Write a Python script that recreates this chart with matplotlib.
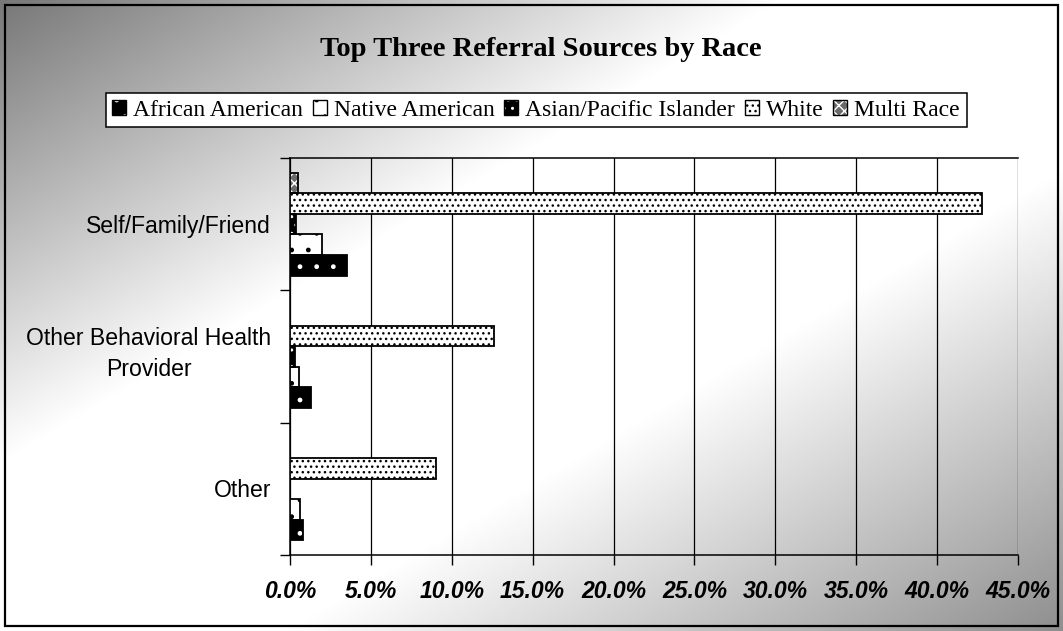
import matplotlib
matplotlib.use('Agg')

import numpy as np
from matplotlib import pyplot as plt
from matplotlib.patches import Patch, Rectangle
from matplotlib.ticker import FuncFormatter

categories = ['Self/Family/Friend', 'Other Behavioral Health\nProvider', 'Other']
series_names = ['African American', 'Native American', 'Asian/Pacific Islander',
                'White', 'Multi Race']
african = [3.5, 1.3, 0.8]
native = [2.0, 0.55, 0.6]
asian = [0.4, 0.3, 0.0]
white = [42.8, 12.6, 9.0]
multi = [0.5, 0.0, 0.0]
x_ticks = [0, 5, 10, 15, 20, 25, 30, 35, 40, 45]

# face, hatch colour, hatch
styles = [
    ('black', 'white', '.'),
    ('white', 'black', '.'),
    ('black', 'white', '..'),
    ('white', 'black', '...'),
    ('#6a6a6a', 'white', 'xxx'),
]

W, H = 1063, 631
fig = plt.figure(figsize=(W / 100, H / 100), dpi=100)

# diagonal grey gradient background
bg = fig.add_axes([0, 0, 1, 1], zorder=0)
xx, yy = np.meshgrid(np.linspace(0, 1, 400), np.linspace(0, 1, 240))
t = xx + yy
shade = np.minimum(np.minimum(1.0, 0.47 + 0.72 * t), 0.56 + 0.6 * (2 - t))
bg.imshow(shade, cmap='gray', vmin=0, vmax=1, aspect='auto',
          extent=[0, 1, 1, 0], interpolation='bilinear')
bg.set_xlim(0, 1)
bg.set_ylim(1, 0)
bg.axis('off')
bg.add_patch(Rectangle((5 / W, 5 / H), (W - 10) / W, (H - 10) / H,
                       fill=False, edgecolor='black', linewidth=1.6))

ax = fig.add_axes([290 / W, 1 - 555 / H, (1018 - 290) / W, (555 - 158) / H], zorder=1)
ax.patch.set_alpha(0)

y = np.arange(len(categories))[::-1]
h = 0.156
data = [african, native, asian, white, multi]
for i, (vals, (face, hc, hatch)) in enumerate(zip(data, styles)):
    pos = y - 2 * h + i * h
    ax.barh(pos, vals, height=h, color=face, edgecolor=hc, hatch=hatch,
            linewidth=0, zorder=3)
    ax.barh(pos, vals, height=h, fill=False, edgecolor='black',
            linewidth=1.3, zorder=4)

ax.set_xlim(0, 45)
ax.set_ylim(-0.5, 2.5)
ax.set_xticks(x_ticks)
ax.xaxis.set_major_formatter(FuncFormatter(lambda v, p: '%.1f%%' % v))
ax.grid(axis='x', color='black', linewidth=0.9, zorder=1)

# category labels, drawn as text so the two-line one can sit a bit higher
ax.set_yticks([])
for yi, cat in zip(y, categories):
    dy = 0.02 if '\n' in cat else -0.015
    ax.text(-19 / 728, yi + dy, cat, transform=ax.get_yaxis_transform(),
            ha='right', va='center', multialignment='center', linespacing=1.45,
            fontfamily='Liberation Sans', fontsize=16.6)
ax.set_yticks([-0.5, 0.5, 1.5, 2.5], minor=True)
ax.tick_params(axis='y', which='minor', length=7, width=1, direction='out',
               labelleft=False)
ax.tick_params(axis='x', length=7, width=1, direction='out', pad=11)
for lbl in ax.get_xticklabels():
    lbl.set_fontfamily('Liberation Sans')
    lbl.set_fontweight('bold')
    lbl.set_fontstyle('italic')
    lbl.set_fontsize(16.6)
for s in ['left', 'bottom', 'top']:
    ax.spines[s].set_linewidth(1.1)
ax.spines['right'].set_visible(False)

fig.text(541 / W, 1 - 49 / H, 'Top Three Referral Sources by Race',
         ha='center', va='center', fontfamily='Liberation Serif',
         fontweight='bold', fontsize=20.5)

handles = [(Patch(facecolor=f, edgecolor=hc, hatch=hh, linewidth=0),
            Patch(fill=False, edgecolor='black', linewidth=1.0))
           for f, hc, hh in styles]
leg = fig.legend(handles, series_names, ncol=5, loc='center',
                 bbox_to_anchor=(536 / W, 1 - 110 / H),
                 prop={'family': 'Liberation Serif', 'size': 17},
                 frameon=True, fancybox=False, edgecolor='black',
                 handlelength=0.6, handleheight=0.6, handletextpad=0.3,
                 columnspacing=0.4, borderpad=0.28)
leg.get_frame().set_linewidth(1.1)
leg.get_frame().set_facecolor('white')
leg.get_frame().set_alpha(1)

fig.savefig('out.png', dpi=100)
